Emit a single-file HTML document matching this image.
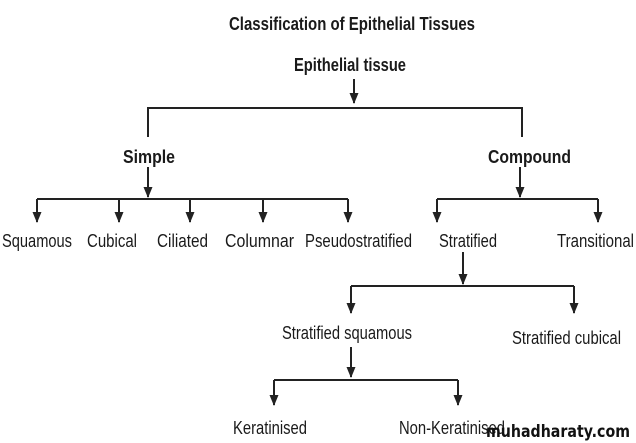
<!DOCTYPE html>
<html><head><style>html,body{margin:0;padding:0;background:#fff}svg{display:block}</style></head>
<body>
<svg width="636" height="443" viewBox="0 0 636 443" xmlns="http://www.w3.org/2000/svg">
<defs><marker id="a" markerWidth="11" markerHeight="9" refX="10" refY="4.5" orient="auto" markerUnits="userSpaceOnUse"><path d="M0,0 L11,4.5 L0,9 Z" fill="#222"/></marker></defs>
<g font-family="Liberation Sans, sans-serif" fill="#1a1a1a">
<text x="229" y="30" font-size="18" font-weight="bold" textLength="246" lengthAdjust="spacingAndGlyphs">Classification of Epithelial Tissues</text>
<text x="294" y="71" font-size="18" font-weight="bold" textLength="112" lengthAdjust="spacingAndGlyphs">Epithelial tissue</text>
<text x="123" y="163" font-size="18" font-weight="bold" textLength="52" lengthAdjust="spacingAndGlyphs">Simple</text>
<text x="488" y="163" font-size="18" font-weight="bold" textLength="83" lengthAdjust="spacingAndGlyphs">Compound</text>
<g font-size="18">
<text x="2" y="247" textLength="70" lengthAdjust="spacingAndGlyphs">Squamous</text>
<text x="87" y="247" textLength="50" lengthAdjust="spacingAndGlyphs">Cubical</text>
<text x="157" y="247" textLength="51" lengthAdjust="spacingAndGlyphs">Ciliated</text>
<text x="225" y="247" textLength="69" lengthAdjust="spacingAndGlyphs">Columnar</text>
<text x="305" y="247" textLength="107" lengthAdjust="spacingAndGlyphs">Pseudostratified</text>
<text x="439" y="247" textLength="58" lengthAdjust="spacingAndGlyphs">Stratified</text>
<text x="557" y="247" textLength="77" lengthAdjust="spacingAndGlyphs">Transitional</text>
<text x="282" y="339" textLength="130" lengthAdjust="spacingAndGlyphs">Stratified squamous</text>
<text x="512" y="344" textLength="109" lengthAdjust="spacingAndGlyphs">Stratified cubical</text>
<text x="233" y="434" textLength="74" lengthAdjust="spacingAndGlyphs">Keratinised</text>
<text x="399" y="434" textLength="106" lengthAdjust="spacingAndGlyphs">Non-Keratinised</text>
</g>
<text x="486" y="437" font-size="17" font-weight="bold" fill="#111" textLength="144" lengthAdjust="spacingAndGlyphs" font-family="DejaVu Sans, sans-serif">muhadharaty.com</text>
</g>
<g stroke="#222" stroke-width="2" fill="none">
<line x1="354" y1="79" x2="354" y2="103" marker-end="url(#a)"/>
<polyline points="148,137 148,108 522,108 522,137"/>
<line x1="148" y1="167" x2="148" y2="197" marker-end="url(#a)"/>
<line x1="37" y1="199" x2="348" y2="199"/>
<line x1="37" y1="199" x2="37" y2="222" marker-end="url(#a)"/>
<line x1="119" y1="199" x2="119" y2="222" marker-end="url(#a)"/>
<line x1="190" y1="199" x2="190" y2="222" marker-end="url(#a)"/>
<line x1="263" y1="199" x2="263" y2="222" marker-end="url(#a)"/>
<line x1="348" y1="199" x2="348" y2="222" marker-end="url(#a)"/>
<line x1="520" y1="167" x2="520" y2="197" marker-end="url(#a)"/>
<line x1="437" y1="199" x2="598" y2="199"/>
<line x1="437" y1="199" x2="437" y2="222" marker-end="url(#a)"/>
<line x1="598" y1="199" x2="598" y2="222" marker-end="url(#a)"/>
<line x1="463" y1="252" x2="463" y2="284" marker-end="url(#a)"/>
<line x1="351" y1="286" x2="574" y2="286"/>
<line x1="351" y1="286" x2="351" y2="313" marker-end="url(#a)"/>
<line x1="574" y1="286" x2="574" y2="313" marker-end="url(#a)"/>
<line x1="351" y1="347" x2="351" y2="377" marker-end="url(#a)"/>
<line x1="274" y1="380" x2="458" y2="380"/>
<line x1="274" y1="380" x2="274" y2="405" marker-end="url(#a)"/>
<line x1="458" y1="380" x2="458" y2="405" marker-end="url(#a)"/>
</g>
</svg>
</body></html>
